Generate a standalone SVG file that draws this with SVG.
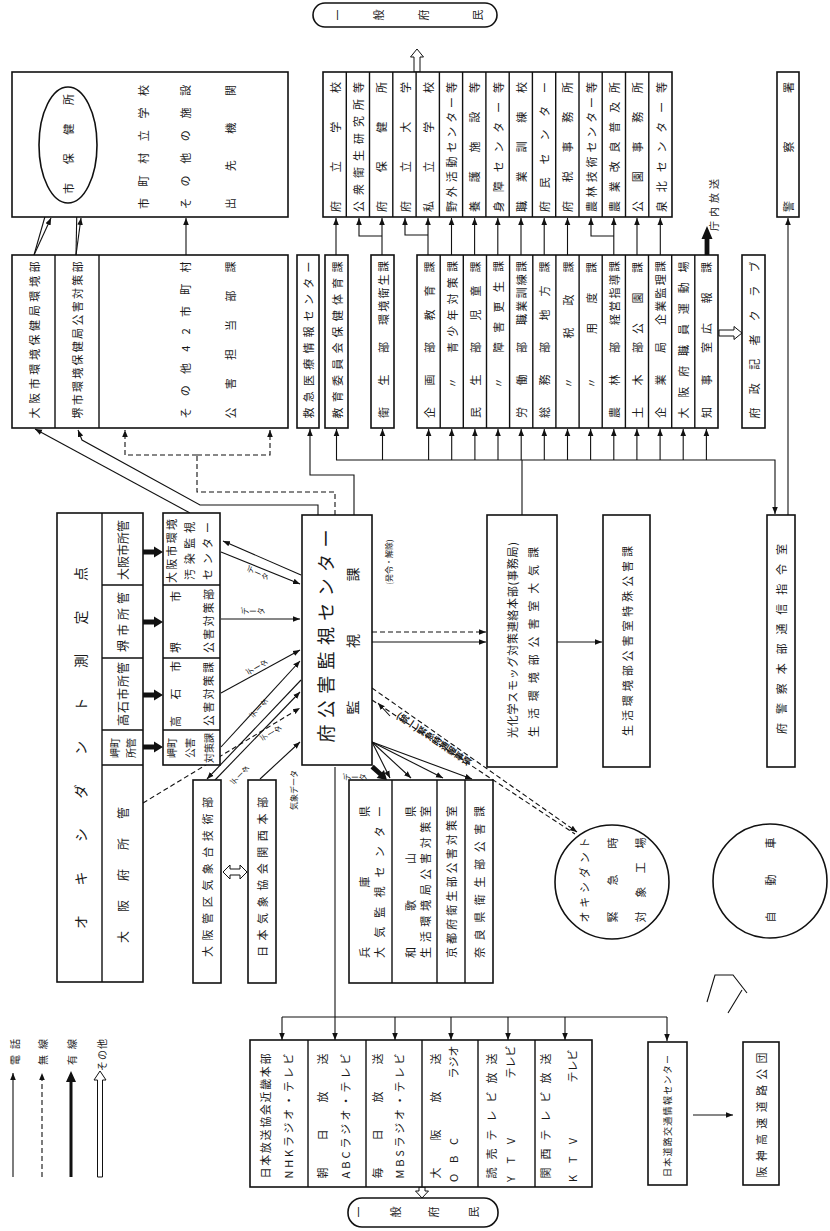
<svg xmlns="http://www.w3.org/2000/svg" width="830" height="1231" viewBox="0 0 830 1231">
<style>
.b{fill:#fff;stroke:#111;stroke-width:1.6}
.l{fill:none;stroke:#111;stroke-width:1.1}
.d{fill:none;stroke:#111;stroke-width:1.1;stroke-dasharray:5,3}
.w{fill:#fff;stroke:#111;stroke-width:1}
.k{fill:#111}
text{font-family:"Noto Sans CJK JP","Noto Sans CJK SC",sans-serif;font-size:11px;fill:#1a1a1a;text-anchor:middle;dominant-baseline:central}
.s9{font-size:9px}.s8{font-size:8px}.s10{font-size:10px}.s12{font-size:12px}.s14{font-size:14px}.s18{font-size:18px}
.vt{writing-mode:vertical-rl}
</style>
<defs>
<marker id="a" viewBox="0 0 10 10" refX="10" refY="5" markerWidth="7" markerHeight="7" markerUnits="userSpaceOnUse" orient="auto"><path d="M0,1 L10,5 L0,9 z" fill="#111"/></marker>
<path id="thk" d="M-20,-2.4 H-9 V-5.5 L0,0 L-9,5.5 V2.4 H-20 Z" fill="#111"/>
</defs>

<g id="connectors">
<!-- left top -->
<path class="l" d="M34,255 L50,199" marker-end="url(#a)"/>
<path class="l" d="M34,255 L51,218" marker-end="url(#a)"/>
<path class="l" d="M76,255 L77,203" marker-end="url(#a)"/>
<path class="l" d="M76,255 L81,218" marker-end="url(#a)"/>
<path class="l" d="M186,255 V218" marker-end="url(#a)"/>
<path class="l" d="M190,513 L35,429" marker-end="url(#a)"/>
<path class="l" d="M318,515 V505 H200 L82,440 L78,430" marker-end="url(#a)"/>
<path class="l" d="M354,515 V475 H310 V429" marker-end="url(#a)"/>
<path class="d" d="M335,515 V492 H197 V455"/>
<path class="d" d="M197,455 H125 V430" marker-end="url(#a)"/>
<path class="d" d="M197,455 H270 V430" marker-end="url(#a)"/>
<!-- bus -->
<path class="l" d="M336,460 H775 V514" marker-end="url(#a)"/>
<path class="l" d="M522,515 V460"/>
<path class="l" d="M336.5,460 V429" marker-end="url(#a)"/>
<path class="l" d="M382.5,460 V429" marker-end="url(#a)"/>
<path class="l" d="M428.6,460 V429" marker-end="url(#a)"/>
<path class="l" d="M451.7,460 V429" marker-end="url(#a)"/>
<path class="l" d="M474.9,460 V429" marker-end="url(#a)"/>
<path class="l" d="M498,460 V429" marker-end="url(#a)"/>
<path class="l" d="M521.2,460 V429" marker-end="url(#a)"/>
<path class="l" d="M544.3,460 V429" marker-end="url(#a)"/>
<path class="l" d="M567.5,460 V429" marker-end="url(#a)"/>
<path class="l" d="M590.6,460 V429" marker-end="url(#a)"/>
<path class="l" d="M613.8,460 V429" marker-end="url(#a)"/>
<path class="l" d="M636.9,460 V429" marker-end="url(#a)"/>
<path class="l" d="M660.1,460 V429" marker-end="url(#a)"/>
<path class="l" d="M683.2,460 V429" marker-end="url(#a)"/>
<path class="l" d="M706.4,460 V429" marker-end="url(#a)"/>
<!-- upper arrows -->
<path class="l" d="M336,255 V218" marker-end="url(#a)"/>
<path class="l" d="M382,255 V218" marker-end="url(#a)"/>
<path class="l" d="M382,236 H359 V218" marker-end="url(#a)"/>
<path class="l" d="M428,255 V218" marker-end="url(#a)"/>
<path class="l" d="M428,235 H405 V218" marker-end="url(#a)"/>
<path class="l" d="M451.5,255 V218" marker-end="url(#a)"/>
<path class="l" d="M474.6,255 V218" marker-end="url(#a)"/>
<path class="l" d="M497.8,255 V218" marker-end="url(#a)"/>
<path class="l" d="M521,255 V218" marker-end="url(#a)"/>
<path class="l" d="M544.2,255 V218" marker-end="url(#a)"/>
<path class="l" d="M567.5,255 V218" marker-end="url(#a)"/>
<path class="l" d="M613.8,255 V218" marker-end="url(#a)"/>
<path class="l" d="M613.8,236 H591 V218" marker-end="url(#a)"/>
<path class="l" d="M637,255 V218" marker-end="url(#a)"/>
<path class="l" d="M660.3,255 V218" marker-end="url(#a)"/>
<path class="l" d="M788,515 V218" marker-end="url(#a)"/>
<use href="#thk" transform="translate(707,226) rotate(-90) scale(1.45,1)"/>
<polygon class="w" points="414,72 414,57 410.5,57 417,49 423.5,57 420,57 420,72"/>
<polygon class="w" points="719,330 734,330 734,326.5 742,333 734,339.5 734,336 719,336"/>
<!-- center to right -->
<path class="d" d="M372,632 H486" marker-end="url(#a)"/>
<path class="l" d="M372,642 H486" marker-end="url(#a)"/>
<path class="l" d="M557,642 H602" marker-end="url(#a)"/>
<!-- measuring boxes to municipal -->
<use href="#thk" transform="translate(163,552)"/>
<use href="#thk" transform="translate(163,622)"/>
<use href="#thk" transform="translate(163,695)"/>
<use href="#thk" transform="translate(163,747)"/>
<!-- data lines -->
<path class="l" d="M301,575 L223,541" marker-end="url(#a)"/>
<path class="l" d="M221,552 L300,584" marker-end="url(#a)"/>
<path class="l" d="M221,619 H300" marker-end="url(#a)"/>
<path class="l" d="M221,693 L300,650" marker-end="url(#a)"/>
<path class="l" d="M221,747 L300,661" marker-end="url(#a)"/>
<path class="l" d="M301,680 L207,779" marker-end="url(#a)"/>
<path class="l" d="M215,780 L300,692" marker-end="url(#a)"/>
<path class="d" d="M143,803 L300,708" marker-end="url(#a)"/>
<path class="l" d="M260,779 L300,742" marker-end="url(#a)"/>
<polygon class="w" points="223,872 230,865 230,869 240,869 240,865 247,872 240,879 240,875 230,875 230,879"/>
<!-- center to prefectures -->
<use href="#thk" transform="translate(387,780) rotate(42)"/>
<path class="l" d="M372,742 L390,778" marker-end="url(#a)"/>
<path class="l" d="M372,742 L411,778" marker-end="url(#a)"/>
<path class="l" d="M372,742 L443,778" marker-end="url(#a)"/>
<path class="l" d="M372,742 L472,779" marker-end="url(#a)"/>
<path class="d" d="M372,688 L577,832" marker-end="url(#a)"/>
<path class="d" d="M372,700 L575,834"/>
<path class="l" d="M390,716 L378,703" marker-end="url(#a)"/>
<!-- broadcast -->
<path class="l" d="M335,767 V1040" marker-end="url(#a)"/>
<path class="l" d="M282,1017 H667"/>
<path class="l" d="M282,1017 V1040" marker-end="url(#a)"/>
<path class="l" d="M395,1017 V1040" marker-end="url(#a)"/>
<path class="l" d="M451,1017 V1040" marker-end="url(#a)"/>
<path class="l" d="M508,1017 V1040" marker-end="url(#a)"/>
<path class="l" d="M565,1017 V1040" marker-end="url(#a)"/>
<path class="l" d="M667,1017 V1041" marker-end="url(#a)"/>
<path class="l" d="M693,1115 H733" marker-end="url(#a)"/>
<polygon class="w" points="419,1187 419,1191 415.5,1191 422,1198 428.5,1191 425,1191 425,1187"/>
<path class="l" d="M707,1002 L715,975 L733,975 L747,993 M728,1013 L742,990"/>
</g>

<!-- labels on connectors -->
<g id="connector-labels">
<text class="s8 vt" transform="translate(258,573) rotate(-65)">データ</text>
<text class="s8 vt" transform="translate(253,611) rotate(-90)">データ</text>
<text class="s8 vt" transform="translate(257,667) rotate(-120)">データ</text>
<text class="s8 vt" transform="translate(259,708) rotate(-138)">データ</text>
<text class="s8 vt" transform="translate(271,733) rotate(-121)">データ</text>
<text class="s8 vt" transform="translate(240,775) rotate(-136)">データ</text>
<text class="s8" transform="translate(293,790) rotate(-90)">気象データ</text>
<text class="s8 vt" transform="translate(355,777) rotate(-90)">データ</text>
<text class="s8" transform="translate(388,562) rotate(-90)">(発令・解除)</text>
<text class="s9 vt" style="font-weight:bold" transform="translate(434,739) rotate(-56)">(統一)緊急時通報事項</text>
<text class="s10" transform="translate(713,205) rotate(-90)" textLength="52">庁内放送</text>
</g>

<g id="pill-top">
<rect class="b" x="313" y="3" width="184" height="24" rx="12"/>
<text transform="translate(337,15) rotate(-90)">一</text>
<text transform="translate(378,15) rotate(-90)">般</text>
<text transform="translate(423,15) rotate(-90)">府</text>
<text transform="translate(477,15) rotate(-90)">民</text>
</g>

<g id="city-facilities">
<rect class="b" x="12" y="72" width="276" height="145"/>
<ellipse class="b" cx="68" cy="145" rx="29" ry="58"/>
<text transform="translate(68,144) rotate(-90)" textLength="100">市保健所</text>
<text transform="translate(143,147) rotate(-90)" textLength="124">市町村立学校</text>
<text transform="translate(185,147) rotate(-90)" textLength="124">その他の施設</text>
<text transform="translate(230,147) rotate(-90)" textLength="124">出先機関</text>
</g>

<g id="cities">
<rect class="b" x="12" y="255" width="276" height="173"/>
<path class="l" d="M55,255 V428 M99,255 V428" style="stroke-width:1.4"/>
<text transform="translate(34,340) rotate(-90)" textLength="157">大阪市環境保健局環境部</text>
<text transform="translate(77,340) rotate(-90)" textLength="157">堺市環境保健局公害対策部</text>
<text transform="translate(185,340) rotate(-90)" textLength="157">その他42市町村</text>
<text transform="translate(230,340) rotate(-90)" textLength="157">公害担当部課</text>
</g>

<g id="pref-facilities">
<rect class="b" x="323" y="72" width="349" height="145"/>
<path class="l" style="stroke-width:1.4" d="M346.3,72V217M369.5,72V217M392.8,72V217M416.1,72V217M439.4,72V217M462.6,72V217M485.9,72V217M509.2,72V217M532.4,72V217M555.7,72V217M579,72V217M602.2,72V217M625.5,72V217M648.8,72V217"/>
<text transform="translate(334.6,147) rotate(-90)" textLength="130">府立学校</text>
<text transform="translate(357.9,147) rotate(-90)" textLength="130">公衆衛生研究所等</text>
<text transform="translate(381.2,147) rotate(-90)" textLength="130">府保健所</text>
<text transform="translate(404.5,147) rotate(-90)" textLength="130">府立大学</text>
<text transform="translate(427.7,147) rotate(-90)" textLength="130">私立学校</text>
<text transform="translate(451,147) rotate(-90)" textLength="130">野外活動センター等</text>
<text transform="translate(474.3,147) rotate(-90)" textLength="130">養護施設等</text>
<text transform="translate(497.5,147) rotate(-90)" textLength="130">身障センター等</text>
<text transform="translate(520.8,147) rotate(-90)" textLength="130">職業訓練校</text>
<text transform="translate(544.1,147) rotate(-90)" textLength="130">府民センター</text>
<text transform="translate(567.4,147) rotate(-90)" textLength="130">府税事務所</text>
<text transform="translate(590.6,147) rotate(-90)" textLength="130">農林技術センター等</text>
<text transform="translate(613.9,147) rotate(-90)" textLength="130">農業改良普及所</text>
<text transform="translate(637.2,147) rotate(-90)" textLength="130">公園事務所</text>
<text transform="translate(660.5,147) rotate(-90)" textLength="130">泉北センター等</text>
</g>

<g id="police">
<rect class="b" x="777" y="72" width="22" height="145"/>
<text transform="translate(788,147) rotate(-90)" textLength="130">警察署</text>
</g>

<g id="kyukyu">
<rect class="b" x="297" y="255" width="22" height="173"/>
<text transform="translate(308,340) rotate(-90)" textLength="157">救急医療情報センター</text>
</g>
<g id="kyoiku">
<rect class="b" x="325" y="255" width="23" height="173"/>
<text transform="translate(336.5,340) rotate(-90)" textLength="157">教育委員会保健体育課</text>
</g>
<g id="eisei">
<rect class="b" x="371" y="255" width="23" height="173"/>
<text transform="translate(382.5,380) rotate(-90)" textLength="76">衛生部</text>
<text transform="translate(382.5,293) rotate(-90)" textLength="64">環境衛生課</text>
</g>

<g id="pref-sections">
<rect class="b" x="417" y="255" width="301" height="173"/>
<path class="l" style="stroke-width:1.4" d="M440.2,255V428M463.3,255V428M486.5,255V428M509.6,255V428M532.8,255V428M555.9,255V428M579.1,255V428M602.2,255V428M625.4,255V428M648.5,255V428M671.7,255V428M694.8,255V428"/>
<text transform="translate(428.6,380) rotate(-90)" textLength="76">企画部</text>
<text transform="translate(428.6,291) rotate(-90)" textLength="59">教育課</text>
<text transform="translate(451.7,383) rotate(-90)">〃</text>
<text transform="translate(451.7,307) rotate(-90)" textLength="92">青少年対策課</text>
<text transform="translate(474.9,380) rotate(-90)" textLength="76">民生部</text>
<text transform="translate(474.9,291) rotate(-90)" textLength="59">児童課</text>
<text transform="translate(498,383) rotate(-90)">〃</text>
<text transform="translate(498,307) rotate(-90)" textLength="92">障害更生課</text>
<text transform="translate(521.2,380) rotate(-90)" textLength="76">労働部</text>
<text transform="translate(521.2,293) rotate(-90)" textLength="64">職業訓練課</text>
<text transform="translate(544.3,380) rotate(-90)" textLength="76">総務部</text>
<text transform="translate(544.3,291) rotate(-90)" textLength="59">地方課</text>
<text transform="translate(567.5,383) rotate(-90)">〃</text>
<text transform="translate(567.5,300) rotate(-90)" textLength="77">税政課</text>
<text transform="translate(590.6,383) rotate(-90)">〃</text>
<text transform="translate(590.6,298) rotate(-90)" textLength="72">用度課</text>
<text transform="translate(613.8,380) rotate(-90)" textLength="76">農林部</text>
<text transform="translate(613.8,293) rotate(-90)" textLength="64">経営指導課</text>
<text transform="translate(636.9,380) rotate(-90)" textLength="76">土木部</text>
<text transform="translate(636.9,298) rotate(-90)" textLength="72">公園課</text>
<text transform="translate(660.1,380) rotate(-90)" textLength="76">企業局</text>
<text transform="translate(660.1,293) rotate(-90)" textLength="64">企業監理課</text>
<text transform="translate(683.2,340) rotate(-90)" textLength="157">大阪府職員運動場</text>
<text transform="translate(706.4,380) rotate(-90)" textLength="76">知事室</text>
<text transform="translate(706.4,298) rotate(-90)" textLength="72">広報課</text>
</g>

<g id="press">
<rect class="b" x="742" y="255" width="23" height="173"/>
<text transform="translate(753.5,340) rotate(-90)" textLength="157">府政記者クラブ</text>
</g>

<g id="oxidant-points">
<rect class="b" x="57" y="513" width="86" height="469"/>
<path class="l" style="stroke-width:1.4" d="M102,513V982M102,585H143M102,658H143M102,730H143M102,765H143"/>
<text class="s14" transform="translate(80,748) rotate(-90)" textLength="362">オキシダント測定点</text>
<text class="s12" transform="translate(122,550) rotate(-90)" textLength="60">大阪市所管</text>
<text class="s12" transform="translate(122,622) rotate(-90)" textLength="60">堺市所管</text>
<text class="s12" transform="translate(122,694) rotate(-90)" textLength="64">高石市所管</text>
<text class="s10" transform="translate(114,748) rotate(-90)">岬町</text>
<text class="s10" transform="translate(130,748) rotate(-90)">所管</text>
<text class="s12" transform="translate(122,875) rotate(-90)" textLength="136">大阪府所管</text>
</g>

<g id="municipal-monitors">
<rect class="b" x="163" y="513" width="57" height="252"/>
<path class="l" style="stroke-width:1.4" d="M163,585H220M163,658H220M163,730H220"/>
<text transform="translate(171,551) rotate(-90)" textLength="64">大阪市環境</text>
<text transform="translate(189,551) rotate(-90)" textLength="58">汚染監視</text>
<text transform="translate(207,551) rotate(-90)" textLength="58">センター</text>
<text transform="translate(175,622) rotate(-90)" textLength="62">堺市</text>
<text transform="translate(208,621) rotate(-90)" textLength="64">公害対策部</text>
<text transform="translate(175,694) rotate(-90)" textLength="66">高石市</text>
<text transform="translate(208,694) rotate(-90)" textLength="64">公害対策課</text>
<text class="s10" transform="translate(171,748) rotate(-90)">岬町</text>
<text class="s10" transform="translate(189,748) rotate(-90)">公害</text>
<text class="s10" transform="translate(208,748) rotate(-90)">対策課</text>
</g>

<g id="jma">
<rect class="b" x="193" y="780" width="28" height="203"/>
<text transform="translate(207,877) rotate(-90)" textLength="160">大阪管区気象台技術部</text>
</g>
<g id="jwa">
<rect class="b" x="248" y="780" width="28" height="203"/>
<text transform="translate(262,877) rotate(-90)" textLength="160">日本気象協会関西本部</text>
</g>

<g id="center">
<rect class="b" x="302" y="515" width="70" height="250"/>
<text class="s18" transform="translate(325,636) rotate(-90)" textLength="213">府公害監視センター</text>
<text class="s14" transform="translate(352,641) rotate(-90)" textLength="147">監視課</text>
</g>

<g id="smog-hq">
<rect class="b" x="487" y="515" width="70" height="252"/>
<text transform="translate(512,640) rotate(-90)" textLength="196">光化学スモッグ対策連絡本部(事務局)</text>
<text transform="translate(533,642) rotate(-90)" textLength="190">生活環境部公害室大気課</text>
</g>

<g id="special">
<rect class="b" x="603" y="515" width="47" height="252"/>
<text transform="translate(627,641) rotate(-90)" textLength="190">生活環境部公害室特殊公害課</text>
</g>

<g id="police-hq">
<rect class="b" x="767" y="515" width="28" height="252"/>
<text transform="translate(781,639) rotate(-90)" textLength="190">府警察本部通信指令室</text>
</g>

<g id="prefectures">
<rect class="b" x="349" y="780" width="144" height="203"/>
<path class="l" style="stroke-width:1.4" d="M392,780V983M437,780V983M465,780V983"/>
<text transform="translate(364,882) rotate(-90)" textLength="152">兵庫県</text>
<text transform="translate(379,882) rotate(-90)" textLength="152">大気監視センター</text>
<text transform="translate(410,882) rotate(-90)" textLength="152">和歌山県</text>
<text transform="translate(425,882) rotate(-90)" textLength="152">生活環境局公害対策室</text>
<text transform="translate(451,882) rotate(-90)" textLength="152">京都府衛生部公害対策室</text>
<text transform="translate(479,882) rotate(-90)" textLength="152">奈良県衛生部公害課</text>
</g>

<g id="factories">
<circle class="b" cx="612" cy="882" r="57"/>
<text transform="translate(584,880) rotate(-90)" textLength="85">オキシダント</text>
<text transform="translate(612,880) rotate(-90)" textLength="85">緊急時</text>
<text transform="translate(640,880) rotate(-90)" textLength="85">対象工場</text>
</g>

<g id="cars">
<circle class="b" cx="770" cy="881" r="57"/>
<text transform="translate(770,880) rotate(-90)" textLength="85">自動車</text>
</g>

<g id="broadcasters">
<rect class="b" x="250" y="1040" width="342" height="147"/>
<path class="l" style="stroke-width:1.4" d="M308,1040V1187M366,1040V1187M422,1040V1187M478,1040V1187M535,1040V1187"/>
<text transform="translate(265,1116) rotate(-90)" textLength="125">日本放送協会近畿本部</text>
<text transform="translate(288,1116) rotate(-90)" textLength="125">NHKラジオ・テレビ</text>
<text transform="translate(322,1116) rotate(-90)" textLength="125">朝日放送</text>
<text transform="translate(345,1116) rotate(-90)" textLength="125">ABCラジオ・テレビ</text>
<text transform="translate(377,1116) rotate(-90)" textLength="125">毎日放送</text>
<text transform="translate(399,1116) rotate(-90)" textLength="125">MBSラジオ・テレビ</text>
<text transform="translate(435,1116) rotate(-90)" textLength="125">大阪放送</text>
<text transform="translate(453,1160) rotate(-90)" textLength="44">OBC</text>
<text transform="translate(453,1062) rotate(-90)">ラジオ</text>
<text transform="translate(491,1116) rotate(-90)" textLength="125">読売テレビ放送</text>
<text transform="translate(510,1160) rotate(-90)" textLength="44">YTV</text>
<text transform="translate(510,1062) rotate(-90)">テレビ</text>
<text transform="translate(545,1116) rotate(-90)" textLength="125">関西テレビ放送</text>
<text transform="translate(572,1160) rotate(-90)" textLength="44">KTV</text>
<text transform="translate(572,1066) rotate(-90)">テレビ</text>
</g>

<g id="traffic-info">
<rect class="b" x="648" y="1042" width="39" height="143"/>
<text class="s9" transform="translate(667,1116) rotate(-90)" textLength="122">日本道路交通情報センター</text>
</g>

<g id="hanshin">
<rect class="b" x="743" y="1042" width="36" height="143"/>
<text transform="translate(761,1115) rotate(-90)" textLength="125">阪神高速道路公団</text>
</g>

<g id="pill-bottom">
<rect class="b" x="348" y="1198" width="150" height="29" rx="14"/>
<text transform="translate(358,1212) rotate(-90)">一</text>
<text transform="translate(395,1212) rotate(-90)">般</text>
<text transform="translate(433,1212) rotate(-90)">府</text>
<text transform="translate(473,1212) rotate(-90)">民</text>
</g>

<g id="legend">
<path class="l" d="M13,1177 V1073" marker-end="url(#a)"/>
<path class="d" d="M42,1177 V1073" marker-end="url(#a)"/>
<path d="M69.5,1177 V1082 H66 L71,1071 L76,1082 H72.5 V1177 Z" class="k"/>
<polygon class="w" points="97.5,1177 97.5,1080 94,1080 100,1071 106,1080 102.5,1080 102.5,1177"/>
<text class="s10" transform="translate(14,1052) rotate(-90)" textLength="26">電話</text>
<text class="s10" transform="translate(42,1052) rotate(-90)" textLength="26">無線</text>
<text class="s10" transform="translate(71,1052) rotate(-90)" textLength="26">有線</text>
<text class="s10" transform="translate(101,1055) rotate(-90)" textLength="32">その他</text>
</g>
</svg>
